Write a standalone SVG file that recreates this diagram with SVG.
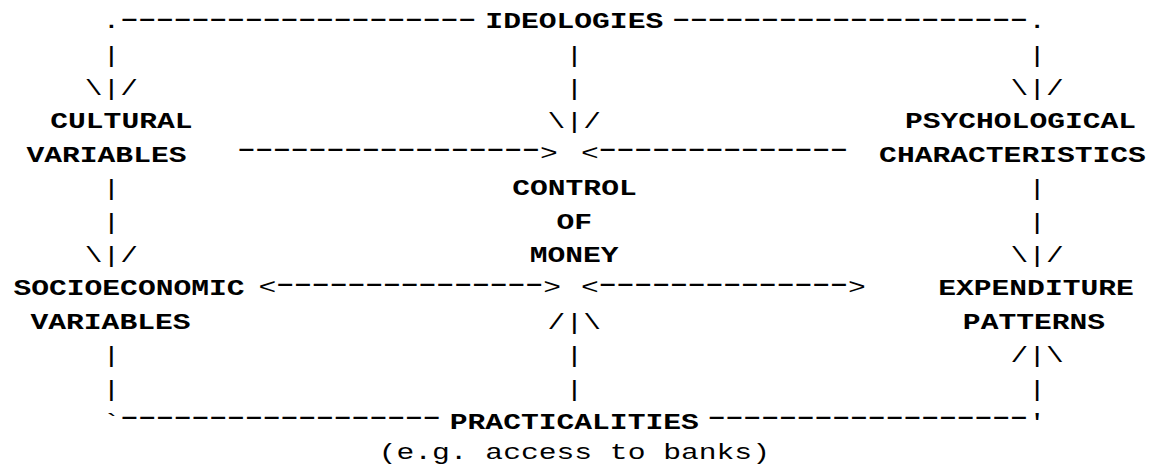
<svg xmlns="http://www.w3.org/2000/svg" width="1161" height="464" viewBox="0 0 1161 464">
<style>
text { font-family: "Liberation Mono", "Courier New", monospace; font-size: 22.8px; fill: #000; }
.lbl { font-weight: bold; text-anchor: middle; }
.note { text-anchor: middle; }
.dash text { font-family: "Liberation Serif", "Times New Roman", serif; font-size: 41.1px; }
</style>
<rect width="1161" height="464" fill="#fff"/>
<g transform="scale(1.3,1)">
<g id="connectors">
<text x="78.92" y="28.3">.</text>
<text x="790.92" y="28.3">.</text>
<text x="78.92" y="61.7">|</text>
<text x="434.92" y="61.7">|</text>
<text x="790.92" y="61.7">|</text>
<text x="65.23" y="95.1">\|/</text>
<text x="434.92" y="95.1">|</text>
<text x="777.23" y="95.1">\|/</text>
<text x="421.23" y="128.5">\|/</text>
<text x="415.46" y="160.4">&gt;</text>
<text x="446.92" y="160.4">&lt;</text>
<text x="78.92" y="195.3">|</text>
<text x="790.92" y="195.3">|</text>
<text x="78.92" y="228.7">|</text>
<text x="790.92" y="228.7">|</text>
<text x="65.23" y="262.1">\|/</text>
<text x="777.23" y="262.1">\|/</text>
<text x="198.85" y="294">&lt;</text>
<text x="417.92" y="294">&gt;</text>
<text x="446.92" y="294">&lt;</text>
<text x="652.31" y="294">&gt;</text>
<text x="421.23" y="328.9">/|\</text>
<text x="78.92" y="362.3">|</text>
<text x="434.92" y="362.3">|</text>
<text x="777.23" y="362.3">/|\</text>
<text x="78.92" y="395.7">|</text>
<text x="434.92" y="395.7">|</text>
<text x="790.92" y="395.7">|</text>
<text x="78.92" y="429.1">`</text>
<text x="790.92" y="429.1">'</text>
<g class="dash" transform="scale(1,0.7)">
<text x="92.62" y="38.86">--------------------</text>
<text x="517.08" y="38.86">--------------------</text>
<text x="182.69" y="225">-----------------</text>
<text x="460.62" y="225">--------------</text>
<text x="212.54" y="416.43">---------------</text>
<text x="460.62" y="416.43">--------------</text>
<text x="92.62" y="607.86">------------------</text>
<text x="544.46" y="607.86">------------------</text>
</g>
</g>
<g id="ideologies"><text class="lbl" x="441.77" y="28.3">IDEOLOGIES</text></g>
<g id="cultural"><text class="lbl" x="93.38" y="128.5">CULTURAL</text><text class="lbl" x="81.92" y="161.9">VARIABLES</text></g>
<g id="psychological"><text class="lbl" x="785" y="128.5">PSYCHOLOGICAL</text><text class="lbl" x="778.85" y="161.9">CHARACTERISTICS</text></g>
<g id="control"><text class="lbl" x="441.92" y="195.3">CONTROL</text><text class="lbl" x="441.77" y="228.7">OF</text><text class="lbl" x="441.69" y="262.1">MONEY</text></g>
<g id="socioeconomic"><text class="lbl" x="99.23" y="295.5">SOCIOECONOMIC</text><text class="lbl" x="85" y="328.9">VARIABLES</text></g>
<g id="expenditure"><text class="lbl" x="796.92" y="295.5">EXPENDITURE</text><text class="lbl" x="795.38" y="328.9">PATTERNS</text></g>
<g id="practicalities"><text class="lbl" x="441.77" y="429.1">PRACTICALITIES</text><text class="note" x="441.77" y="459">(e.g. access to banks)</text></g>
</g>
</svg>
